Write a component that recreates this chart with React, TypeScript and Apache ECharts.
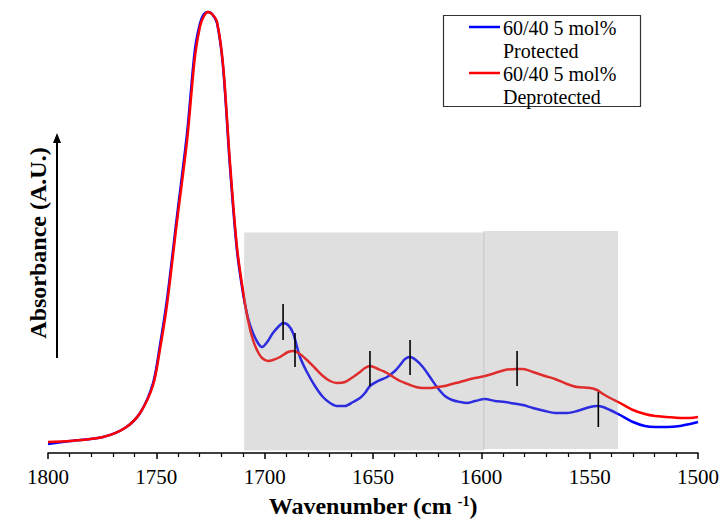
import React, { useEffect, useRef } from "react";
import * as echarts from "echarts";

// Wavenumber (cm-1) sample positions
const wavenumbers = [
  1800, 1789.8, 1774.6, 1764.5, 1757.5, 1751.5, 1748.3, 1745.1, 1740.5, 1735.8,
  1732.2, 1729.8, 1728, 1726.2, 1724.3, 1722, 1719.2, 1716, 1712.8, 1710,
  1707.7, 1705.4, 1703.1, 1701.2, 1698.5, 1696.2, 1692.9, 1691.5, 1689.2, 1686.9,
  1683.7, 1680.5, 1676.8, 1673.1, 1669.8, 1666.6, 1662.9, 1659.2, 1656, 1653.7,
  1651.4, 1647.7, 1643.5, 1639.9, 1637.5, 1635.2, 1632.9, 1630.2, 1627, 1623.7,
  1620.5, 1616.8, 1613.5, 1609.8, 1606.6, 1602.9, 1598.3, 1593.7, 1589.1, 1583.5,
  1580.8, 1576.2, 1570.6, 1566, 1560.5, 1555.8, 1549.8, 1546.6, 1543.8, 1540.6,
  1536, 1530, 1524.5, 1519.8, 1514.3, 1508.3, 1503.7, 1500,
];

// Absorbance (arbitrary units)
const protectedAbs = [
  9, 12, 16, 25, 40, 70, 108, 153, 236, 320,
  403, 430, 439, 441, 439, 430, 386, 286, 203, 160,
  135, 120, 110, 106, 112, 120, 128, 130, 128, 120,
  96, 81, 67, 56, 50, 47, 47, 51, 55, 60,
  67, 72, 76, 82, 88, 94, 96, 93, 86, 76,
  66, 57, 53, 51, 50, 52, 54, 52, 51, 49,
  48, 45, 42, 40, 40, 42, 46, 47, 46, 43,
  38, 31, 27, 26, 26, 27, 29, 31,
];

const deprotectedAbs = [
  11, 12, 16, 25, 40, 68, 104, 148, 231, 313,
  396, 427, 437, 441, 439, 431, 388, 290, 206, 162,
  133, 113, 101, 95, 92, 93, 96, 98, 101, 102,
  99, 93, 85, 77, 72, 70, 71, 76, 81, 85,
  87, 84, 80, 75, 72, 70, 68, 66, 65, 65,
  66, 67, 69, 71, 73, 75, 77, 80, 83, 84,
  84, 81, 77, 74, 69, 66, 65, 63, 59, 55,
  50, 43, 39, 37, 36, 35, 35, 36,
];

// Shaded regions
const regionStart = [1709.5, 1599.1];
const regionEnd = [1598.6, 1536.9];
const regionLow = [2.5, 4];
const regionHigh = [220.5, 222];

// Band marker ticks
const markerWn = [1691.5, 1686, 1651.4, 1632.9, 1583.5, 1546];
const markerLow = [113, 86, 67, 78, 67, 26];
const markerHigh = [149, 120, 102, 113, 102, 61];

const seriesNames = ["60/40 5 mol%\nProtected", "60/40 5 mol%\nDeprotected"];
const FONT = '"Liberation Serif", "Times New Roman", serif';

export default function App() {
  const ref = useRef<HTMLDivElement>(null);
  useEffect(() => {
    if (!ref.current) return;
    const chart = echarts.init(ref.current, undefined, { renderer: "svg" });
    const blueData = wavenumbers.map((w, i) => [w, protectedAbs[i]]);
    const redData = wavenumbers.map((w, i) => [w, deprotectedAbs[i]]);
    const regionData = regionStart.map((s, i) => [s, regionEnd[i], regionLow[i], regionHigh[i]]);
    const markerData = markerWn.map((w, i) => [w, markerLow[i], markerHigh[i]]);

    chart.setOption({
      animation: false,
      backgroundColor: "#fff",
      textStyle: { fontFamily: FONT },
      grid: { left: 48, right: 25, top: 12, bottom: 70 },
      xAxis: {
        type: "value",
        inverse: true,
        min: 1500,
        max: 1800,
        interval: 50,
        name: "Wavenumber (cm {sup|-1})",
        nameLocation: "middle",
        nameGap: 41,
        nameTextStyle: {
          fontFamily: FONT,
          fontWeight: "bold",
          fontSize: 24,
          color: "#000",
          rich: {
            sup: {
              fontFamily: FONT,
              fontWeight: "bold",
              fontSize: 14,
              color: "#000",
              verticalAlign: "top",
              padding: [0, 0, 10, 0],
            },
          },
        },
        axisLine: { show: true, lineStyle: { color: "#000", width: 1.5 } },
        axisTick: { show: true, length: 6, lineStyle: { color: "#000", width: 1.5 } },
        minorTick: { show: true, splitNumber: 5, length: 4, lineStyle: { color: "#000", width: 1.2 } },
        splitLine: { show: false },
        axisLabel: {
          color: "#000",
          fontFamily: FONT,
          fontSize: 21,
          margin: 13,
          formatter: (v: number) => String(v),
        },
      },
      yAxis: {
        type: "value",
        min: 0,
        max: 441,
        show: false,
        splitLine: { show: false },
      },
      series: [
        {
          name: seriesNames[0],
          type: "line",
          data: blueData,
          showSymbol: false,
          smooth: 0.3,
          clip: false,
          z: 2,
          lineStyle: { color: "#0000ff", width: 2.5 },
          itemStyle: { color: "#0000ff" },
        },
        {
          name: seriesNames[1],
          type: "line",
          data: redData,
          showSymbol: false,
          smooth: 0.3,
          clip: false,
          z: 3,
          lineStyle: { color: "#ff0000", width: 2.5 },
          itemStyle: { color: "#ff0000" },
        },
        {
          type: "custom",
          z: 5,
          silent: true,
          data: regionData,
          encode: { x: [0, 1], y: [2, 3] },
          renderItem: (params: any, api: any) => {
            const p1 = api.coord([api.value(0), api.value(3)]);
            const p2 = api.coord([api.value(1), api.value(2)]);
            return {
              type: "rect",
              shape: {
                x: Math.min(p1[0], p2[0]),
                y: Math.min(p1[1], p2[1]),
                width: Math.abs(p2[0] - p1[0]),
                height: Math.abs(p2[1] - p1[1]),
              },
              style: { fill: "rgba(148,148,148,0.3)" },
            };
          },
        },
        {
          type: "custom",
          z: 6,
          silent: true,
          data: markerData,
          encode: { x: 0, y: [1, 2] },
          renderItem: (params: any, api: any) => {
            const a = api.coord([api.value(0), api.value(1)]);
            const b = api.coord([api.value(0), api.value(2)]);
            return {
              type: "line",
              shape: { x1: a[0], y1: a[1], x2: b[0], y2: b[1] },
              style: { stroke: "#000", lineWidth: 1.6 },
            };
          },
        },
      ],
      graphic: [
        {
          type: "text",
          x: 38,
          y: 243,
          rotation: Math.PI / 2,
          style: {
            text: "Absorbance (A.U.)",
            font: `bold 24px ${FONT}`,
            textAlign: "center",
            textVerticalAlign: "middle",
            fill: "#000",
          },
        },
        {
          type: "line",
          shape: { x1: 57, y1: 358, x2: 57, y2: 141 },
          style: { stroke: "#000", lineWidth: 2 },
        },
        {
          type: "polygon",
          shape: { points: [[57, 133], [53, 143], [61, 143]] },
          style: { fill: "#000" },
        },
        {
          type: "group",
          children: [
            {
              type: "rect",
              shape: { x: 443.5, y: 15.5, width: 197, height: 91 },
              style: { fill: "#fff", stroke: "#333", lineWidth: 1.2 },
            },
            {
              type: "line",
              shape: { x1: 469, y1: 27, x2: 500, y2: 27 },
              style: { stroke: "#0000ff", lineWidth: 2.5 },
            },
            {
              type: "text",
              x: 503,
              y: 28,
              style: { text: "60/40 5 mol%", font: `20px ${FONT}`, textVerticalAlign: "middle", fill: "#000" },
            },
            {
              type: "text",
              x: 503,
              y: 51,
              style: { text: "Protected", font: `20px ${FONT}`, textVerticalAlign: "middle", fill: "#000" },
            },
            {
              type: "line",
              shape: { x1: 469, y1: 73, x2: 500, y2: 73 },
              style: { stroke: "#ff0000", lineWidth: 2.5 },
            },
            {
              type: "text",
              x: 503,
              y: 74,
              style: { text: "60/40 5 mol%", font: `20px ${FONT}`, textVerticalAlign: "middle", fill: "#000" },
            },
            {
              type: "text",
              x: 503,
              y: 97,
              style: { text: "Deprotected", font: `20px ${FONT}`, textVerticalAlign: "middle", fill: "#000" },
            },
          ],
        },
      ],
    });
    return () => chart.dispose();
  }, []);
  return (
    <div
      ref={ref}
      style={{ position: "fixed", left: 0, top: 0, width: 723, height: 523, background: "#fff" }}
    />
  );
}
